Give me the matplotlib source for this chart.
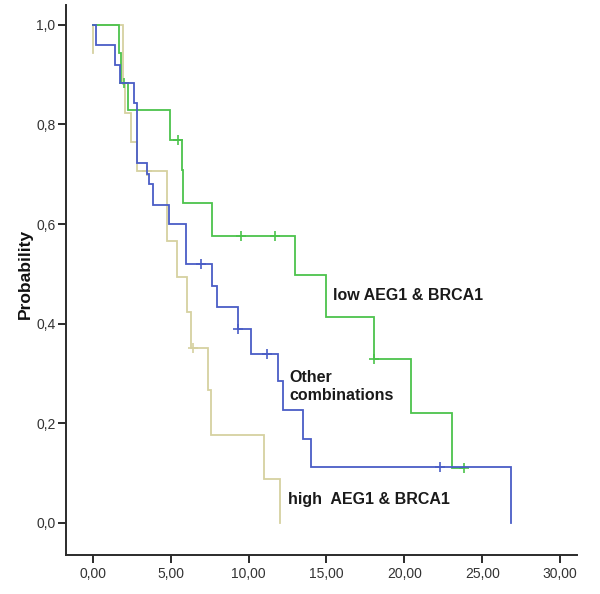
import matplotlib
matplotlib.use("Agg")
import matplotlib.pyplot as plt

plt.rcParams['font.family'] = ['Liberation Sans', 'DejaVu Sans']

# ---- data ----
low_times = [1.69, 1.80, 2.27, 4.95, 5.70, 5.80, 7.62, 12.97, 14.97, 18.05, 20.40, 23.04]
low_surv = [0.943, 0.883, 0.829, 0.769, 0.708, 0.643, 0.577, 0.497, 0.413, 0.330, 0.221, 0.111]
low_end = 23.8
low_censor = [2.0, 5.48, 9.5, 11.69, 18.05, 23.8]

other_times = [0.17, 1.41, 1.73, 2.65, 2.85, 3.45, 3.60, 3.83, 4.88, 5.95, 7.64, 7.96,
               9.29, 10.15, 11.86, 12.20, 13.50, 13.98, 26.85]
other_surv = [0.960, 0.920, 0.883, 0.843, 0.722, 0.700, 0.680, 0.639, 0.600, 0.520, 0.476, 0.433,
              0.389, 0.340, 0.284, 0.226, 0.169, 0.113, 0.0]
other_end = 26.85
other_censor = [6.92, 9.33, 11.2, 22.29]

high_times = [1.90, 2.06, 2.42, 2.85, 4.75, 5.37, 6.06, 6.29, 7.37, 7.58, 11.0, 12.0]
high_surv = [0.882, 0.823, 0.765, 0.706, 0.565, 0.493, 0.423, 0.352, 0.266, 0.176, 0.088, 0.0]
high_end = 12.0
high_censor = [3.49, 6.42]
high_start_seg = [0.943, 1.0]

x_ticks = [0, 5, 10, 15, 20, 25, 30]
x_tick_labels = ["0,00", "5,00", "10,00", "15,00", "20,00", "25,00", "30,00"]
y_ticks = [0.0, 0.2, 0.4, 0.6, 0.8, 1.0]
y_tick_labels = ["0,0", "0,2", "0,4", "0,6", "0,8", "1,0"]

c_low = "#4cc34c"
c_other = "#4a5dc6"
c_high = "#d6d1a0"

fig = plt.figure(figsize=(6.0, 5.94), dpi=100)
ax = fig.add_axes([0.11, 0.0657, 0.8517, 0.926])


def surv_at(times, surv, t):
    s = 1.0
    for ti, si in zip(times, surv):
        if ti <= t:
            s = si
    return s


def draw(times, surv, end, censor, color, z):
    xs = [0] + list(times) + [end]
    ys = [1.0] + list(surv) + [surv[-1]]
    ax.step(xs, ys, where='post', color=color, lw=1.3, zorder=z, solid_joinstyle='miter')
    cy = [surv_at(times, surv, t) for t in censor]
    ax.plot(censor, cy, ls='none', marker='+', ms=7, mew=1.2, color=color, zorder=z)


draw(high_times, high_surv, high_end, high_censor, c_high, 2)
ax.plot([0, 0], high_start_seg, color=c_high, lw=1.3, zorder=2)
draw(low_times, low_surv, low_end, low_censor, c_low, 3)
draw(other_times, other_surv, other_end, other_censor, c_other, 4)

ax.set_xlim(-1.73, 31.09)
ax.set_ylim(-0.0645, 1.040)
ax.set_xticks(x_ticks)
ax.set_xticklabels(x_tick_labels)
ax.set_yticks(y_ticks)
ax.set_yticklabels(y_tick_labels)

for s in ['top', 'right']:
    ax.spines[s].set_visible(False)
for s in ['left', 'bottom']:
    ax.spines[s].set_color('#2b2b2b')
    ax.spines[s].set_linewidth(1.4)
ax.tick_params(axis='both', direction='out', length=6, width=1.4, color='#2b2b2b',
               labelsize=10, labelcolor='#333333')
ax.tick_params(axis='y', pad=1.5)
ax.tick_params(axis='x', pad=3)

ax.set_ylabel("Probability", fontsize=12.5, fontweight='bold', color='#111111')
ax.yaxis.set_label_coords(-0.064, 0.511)

txt_kw = dict(fontsize=11.5, fontweight='bold', color='#1a1a1a', va='center', ha='left')
ax.text(15.4, 0.456, "low AEG1 & BRCA1", **txt_kw)
ax.text(12.6, 0.274, "Other\ncombinations", linespacing=1.25, **txt_kw)
ax.text(12.5, 0.046, "high  AEG1 & BRCA1", **txt_kw)

fig.savefig("out.png", dpi=100)
